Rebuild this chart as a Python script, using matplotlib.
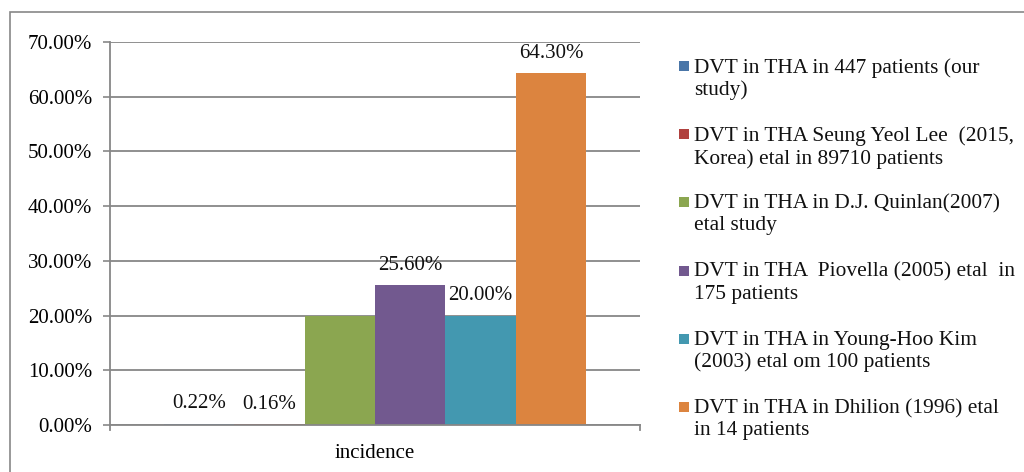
import matplotlib
matplotlib.use("Agg")
import matplotlib.pyplot as plt
from matplotlib.patches import Rectangle
from matplotlib.ticker import FuncFormatter

plt.rcParams['font.family'] = ['Liberation Serif', 'DejaVu Serif']

category = "incidence"
series_labels = [
    "DVT in THA in 447 patients (our\nstudy)",
    "DVT in THA Seung Yeol Lee  (2015,\nKorea) etal in 89710 patients",
    "DVT in THA in D.J. Quinlan(2007)\netal study",
    "DVT in THA  Piovella (2005) etal  in\n175 patients",
    "DVT in THA in Young-Hoo Kim\n(2003) etal om 100 patients",
    "DVT in THA in Dhilion (1996) etal\nin 14 patients",
]
values = [0.22, 0.16, 20.0, 25.6, 20.0, 64.3]
value_labels = ["0.22%", "0.16%", None, "25.60%", "20.00%", "64.30%"]
colors = ["#4A76A8", "#B0413E", "#8BA650", "#72598F", "#4398B0", "#DC843F"]
y_ticks = [0, 10, 20, 30, 40, 50, 60, 70]

W, H = 1024, 472
fig = plt.figure(figsize=(W / 100, H / 100), dpi=100)

# outer chart border
fig.patches.append(Rectangle((10 / W, -0.1), 1.2, 1 - 12 / H + 0.1, transform=fig.transFigure,
                             fill=False, edgecolor="#878787", linewidth=1.2))

ax = fig.add_axes([110 / W, 1 - 425 / H, 530 / W, (425 - 42) / H])
n = len(values)
bw = 0.798 / n
xs = [-0.399 + bw * (i + 0.5) for i in range(n)]
bars = ax.bar(xs, values, width=bw, color=colors, linewidth=0)

for x, v, lab in zip(xs, values, value_labels):
    if lab:
        ax.annotate(lab, (x, v), xytext=(0, 7.5), textcoords="offset points",
                    ha="center", va="bottom", fontsize=15, color="#111111")

ax.set_xlim(-0.5, 0.5)
ax.set_ylim(0, 70)
ax.set_yticks(y_ticks)
ax.yaxis.set_major_formatter(FuncFormatter(lambda v, p: f"{v:.2f}%"))
ax.set_xticks([0])
ax.set_xticklabels([category])
ax.tick_params(axis="x", length=0, labelsize=15, pad=14)
ax.tick_params(axis="y", length=5, width=1.2, color="#878787", labelsize=15, pad=8)
ax.grid(axis="y", color="#878787", linewidth=1.3)
ax.set_axisbelow(True)
for s in ["top", "right"]:
    ax.spines[s].set_visible(False)
for s in ["left", "bottom"]:
    ax.spines[s].set_color("#878787")
    ax.spines[s].set_linewidth(1.3)
# x-axis end ticks
for xe in (-0.5, 0.5):
    ax.plot([xe, xe], [0, -0.012], transform=ax.get_xaxis_transform(), color="#878787",
            linewidth=1.3, clip_on=False)

# legend (manual, Excel-like wrapped entries)
y0 = 66
step = 68.2
for i, (lab, c) in enumerate(zip(series_labels, colors)):
    yc = y0 + step * i
    fig.patches.append(Rectangle((679 / W, 1 - (yc + 5) / H), 10 / W, 10 / H,
                                 transform=fig.transFigure, facecolor=c, edgecolor="none"))
    fig.text(694 / W, 1 - (yc - 8) / H, lab, ha="left", va="top", fontsize=15.4,
             linespacing=1.2, color="#111111")

fig.savefig("out.png", dpi=100)
